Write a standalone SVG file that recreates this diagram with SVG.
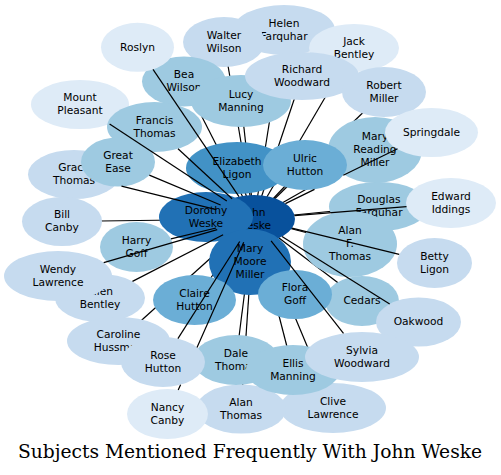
<svg xmlns="http://www.w3.org/2000/svg" width="501" height="475" viewBox="0 0 501 475">
<style>
text{font-family:"DejaVu Sans","Liberation Sans",sans-serif;font-size:10.67px;fill:#000;text-anchor:middle}
.t{font-family:"DejaVu Serif","Liberation Serif",serif;font-size:18.67px}
ellipse{stroke:none}
.c0{fill:#deebf7}.c1{fill:#c6dbef}.c2{fill:#9ecae1}.c3{fill:#6baed6}.c4{fill:#4292c6}.c5{fill:#2171b5}.c6{fill:#08519c}
.e line,.e path{stroke:#000;stroke-width:1.2;fill:none}
</style>
<rect width="501" height="475" fill="#fff"/>
<g id="edges" class="e">
<line x1="254" y1="219" x2="284" y2="30"/>
<line x1="254" y1="219" x2="224" y2="42"/>
<line x1="254" y1="219" x2="354" y2="48"/>
<line x1="254" y1="219" x2="184" y2="81.5"/>
<line x1="254" y1="219" x2="241" y2="101"/>
<line x1="254" y1="219" x2="302" y2="76"/>
<line x1="254" y1="219" x2="384" y2="92"/>
<line x1="254" y1="219" x2="237" y2="168"/>
<line x1="254" y1="219" x2="206" y2="217"/>
<line x1="254" y1="219" x2="250" y2="262"/>
<line x1="254" y1="219" x2="375" y2="150"/>
<line x1="254" y1="219" x2="305" y2="165"/>
<line x1="254" y1="219" x2="379" y2="206.5"/>
<line x1="254" y1="219" x2="350" y2="244"/>
<line x1="254" y1="219" x2="362" y2="301"/>
<line x1="254" y1="219" x2="62" y2="221.5"/>
<line x1="254" y1="219" x2="118.5" y2="341"/>
<line x1="254" y1="219" x2="194.5" y2="300"/>
<line x1="254" y1="219" x2="295" y2="294.5"/>
<line x1="254" y1="219" x2="333" y2="408"/>
<line x1="254" y1="219" x2="241" y2="409"/>
<line x1="254" y1="219" x2="236" y2="360"/>
<line x1="254" y1="219" x2="293" y2="370"/>
</g>
<g id="helen"><ellipse class="c1" cx="284" cy="30" rx="51" ry="25"/><text x="284" y="26.8">Helen</text><text x="284" y="39.6">Farquhar</text></g>
<g id="walter"><ellipse class="c1" cx="224" cy="42" rx="41" ry="25"/><text x="224" y="38.8">Walter</text><text x="224" y="51.6">Wilson</text></g>
<g id="jack"><ellipse class="c0" cx="354" cy="48" rx="45" ry="24"/><text x="354" y="44.8">Jack</text><text x="354" y="57.6">Bentley</text></g>
<g id="bea"><ellipse class="c2" cx="184" cy="81.5" rx="42" ry="25"/><text x="184" y="78.3">Bea</text><text x="184" y="91.1">Wilson</text></g>
<g id="lucy"><ellipse class="c2" cx="241" cy="101" rx="50" ry="26"/><text x="241" y="97.8">Lucy</text><text x="241" y="110.6">Manning</text></g>
<g id="richard"><ellipse class="c1" cx="302" cy="76" rx="57" ry="24"/><text x="302" y="72.8">Richard</text><text x="302" y="85.6">Woodward</text></g>
<g id="robert"><ellipse class="c1" cx="384" cy="92" rx="42" ry="25"/><text x="384" y="88.8">Robert</text><text x="384" y="101.6">Miller</text></g>
<g id="roslyn"><ellipse class="c0" cx="137.5" cy="47.3" rx="36.5" ry="24.5"/><text x="137.5" y="50.5">Roslyn</text></g>
<g id="mount"><ellipse class="c0" cx="80" cy="104.5" rx="49" ry="24.5"/><text x="80" y="101.3">Mount</text><text x="80" y="114.1">Pleasant</text></g>
<g id="francis"><ellipse class="c2" cx="154.5" cy="127" rx="47.5" ry="25"/><text x="154.5" y="123.8">Francis</text><text x="154.5" y="136.6">Thomas</text></g>
<g id="grace"><ellipse class="c1" cx="74" cy="174.5" rx="46" ry="24.5"/><text x="74" y="171.3">Grace</text><text x="74" y="184.1">Thomas</text></g>
<g id="great"><ellipse class="c2" cx="118" cy="162" rx="37" ry="24.5"/><text x="118" y="158.8">Great</text><text x="118" y="171.6">Ease</text></g>
<g id="elizabeth"><ellipse class="c4" cx="237" cy="168" rx="51" ry="26"/><text x="237" y="164.8">Elizabeth</text><text x="237" y="177.6">Ligon</text></g>
<g id="john"><ellipse class="c6" cx="254" cy="219" rx="41" ry="24"/><text x="254" y="215.8">John</text><text x="254" y="228.6">Weske</text></g>
<g id="dorothy"><ellipse class="c5" cx="206" cy="217" rx="47" ry="25"/><text x="206" y="213.8">Dorothy</text><text x="206" y="226.6">Weske</text></g>
<g id="marymoore"><ellipse class="c5" cx="250" cy="262" rx="41" ry="33"/><text x="250" y="252.4">Mary</text><text x="250" y="265.2">Moore</text><text x="250" y="278">Miller</text></g>
<g id="maryreading"><ellipse class="c2" cx="375" cy="150" rx="47" ry="33"/><text x="375" y="140.4">Mary</text><text x="375" y="153.2">Reading</text><text x="375" y="166">Miller</text></g>
<g id="ulric"><ellipse class="c3" cx="305" cy="165" rx="42" ry="25"/><text x="305" y="161.8">Ulric</text><text x="305" y="174.6">Hutton</text></g>
<g id="springdale"><ellipse class="c0" cx="431.5" cy="132.5" rx="46.5" ry="24.5"/><text x="431.5" y="135.7">Springdale</text></g>
<g id="douglas"><ellipse class="c2" cx="379" cy="206.5" rx="50" ry="24.5"/><text x="379" y="203.3">Douglas</text><text x="379" y="216.1">Farquhar</text></g>
<g id="alanf"><ellipse class="c2" cx="350" cy="244" rx="47" ry="33"/><text x="350" y="234.4">Alan</text><text x="350" y="247.2">F.</text><text x="350" y="260">Thomas</text></g>
<g id="edward"><ellipse class="c0" cx="451" cy="203" rx="45" ry="25"/><text x="451" y="199.8">Edward</text><text x="451" y="212.6">Iddings</text></g>
<g id="betty"><ellipse class="c1" cx="434.5" cy="263" rx="37.5" ry="25"/><text x="434.5" y="259.8">Betty</text><text x="434.5" y="272.6">Ligon</text></g>
<g id="cedars"><ellipse class="c2" cx="362" cy="301" rx="37" ry="25"/><text x="362" y="304.2">Cedars</text></g>
<g id="oakwood"><ellipse class="c1" cx="418.5" cy="322" rx="42.5" ry="24.5"/><text x="418.5" y="325.2">Oakwood</text></g>
<g id="bill"><ellipse class="c1" cx="62" cy="221.5" rx="40" ry="24.5"/><text x="62" y="218.3">Bill</text><text x="62" y="231.1">Canby</text></g>
<g id="harry"><ellipse class="c2" cx="136.5" cy="247" rx="36.5" ry="25"/><text x="136.5" y="243.8">Harry</text><text x="136.5" y="256.6">Goff</text></g>
<g id="ellen"><ellipse class="c1" cx="100" cy="298" rx="45" ry="24"/><text x="100" y="294.8">Ellen</text><text x="100" y="307.6">Bentley</text></g>
<g id="wendy"><ellipse class="c1" cx="58" cy="276" rx="54" ry="25"/><text x="58" y="272.8">Wendy</text><text x="58" y="285.6">Lawrence</text></g>
<g id="caroline"><ellipse class="c1" cx="118.5" cy="341" rx="51.5" ry="24"/><text x="118.5" y="337.8">Caroline</text><text x="118.5" y="350.6">Hussman</text></g>
<g id="claire"><ellipse class="c3" cx="194.5" cy="300" rx="41.5" ry="25"/><text x="194.5" y="296.8">Claire</text><text x="194.5" y="309.6">Hutton</text></g>
<g id="flora"><ellipse class="c3" cx="295" cy="294.5" rx="37" ry="24.5"/><text x="295" y="291.3">Flora</text><text x="295" y="304.1">Goff</text></g>
<g id="clive"><ellipse class="c1" cx="333" cy="408" rx="53" ry="25"/><text x="333" y="404.8">Clive</text><text x="333" y="417.6">Lawrence</text></g>
<g id="alanthomas"><ellipse class="c1" cx="241" cy="409" rx="45" ry="24.5"/><text x="241" y="405.8">Alan</text><text x="241" y="418.6">Thomas</text></g>
<g id="dale"><ellipse class="c2" cx="236" cy="360" rx="43" ry="25"/><text x="236" y="356.8">Dale</text><text x="236" y="369.6">Thomas</text></g>
<g id="ellis"><ellipse class="c2" cx="293" cy="370" rx="47" ry="25"/><text x="293" y="366.8">Ellis</text><text x="293" y="379.6">Manning</text></g>
<g id="sylvia"><ellipse class="c1" cx="362" cy="357" rx="57" ry="25"/><text x="362" y="353.8">Sylvia</text><text x="362" y="366.6">Woodward</text></g>
<g id="rose"><ellipse class="c1" cx="163" cy="362" rx="42" ry="25"/><text x="163" y="358.8">Rose</text><text x="163" y="371.6">Hutton</text></g>
<g id="nancy"><ellipse class="c0" cx="167.5" cy="414" rx="40.5" ry="25"/><text x="167.5" y="410.8">Nancy</text><text x="167.5" y="423.6">Canby</text></g>
<g id="edges-front" class="e">
<path d="M239,196.7L153,69.3"/>
<path d="M226.8,201.1L109.6,124"/>
<path d="M232.1,198.7L178,148.7"/>
<path d="M220.6,205L149.3,175.1"/>
<path d="M216.2,209.7L121.5,186.2"/>
<path d="M216.1,228L170.9,238.8"/>
<path d="M217.2,229.7L103.7,262.7"/>
<path d="M223.1,234.8L132.5,281.4"/>
<path d="M239.7,241.5L177.9,338.6"/>
<path d="M243.7,242.2L197,347.4M180.6,384.7L178.2,389.9"/>
<path d="M271.1,240.8L343.5,333.4"/>
<path d="M282,236.5L389.7,304"/>
<path d="M291.9,228.2L399.2,254.4"/>
<path d="M294.6,215.7L406.5,206.6"/>
<path d="M285.4,203.6L314.5,189.4M343.3,175.3L397.5,148.7"/>
</g>
<text class="t" x="250" y="458">Subjects Mentioned Frequently With John Weske</text>
</svg>
